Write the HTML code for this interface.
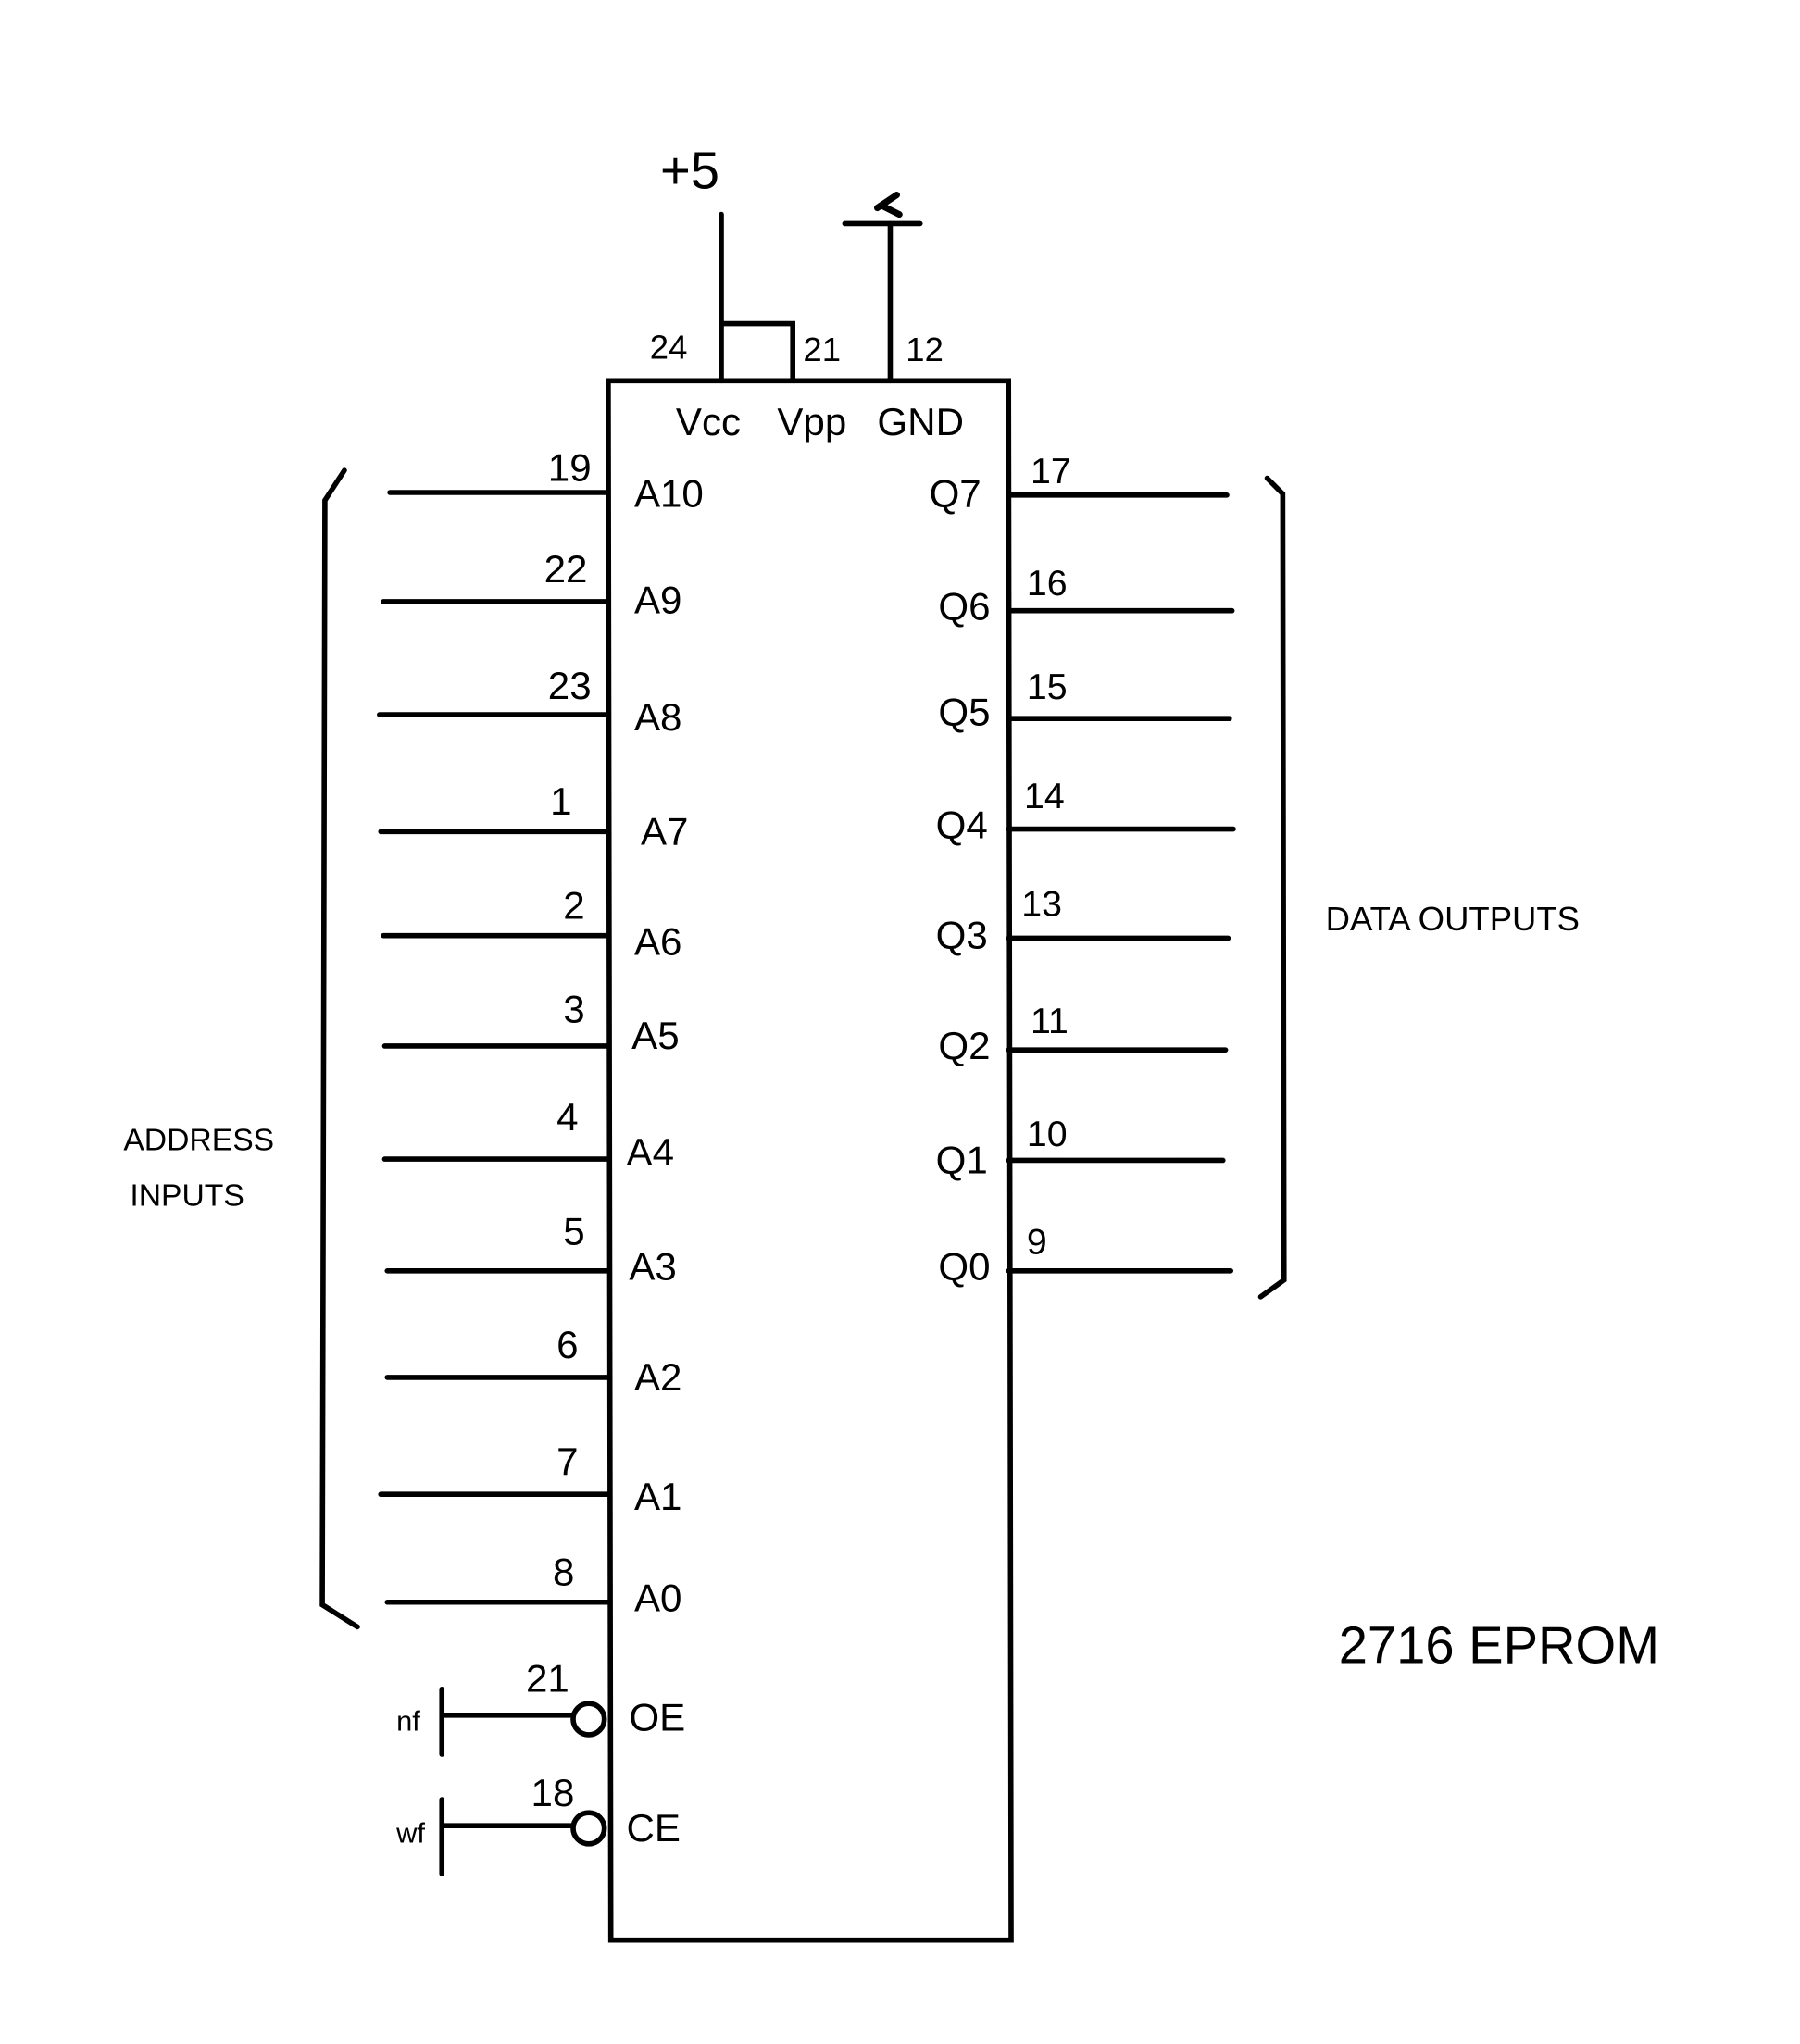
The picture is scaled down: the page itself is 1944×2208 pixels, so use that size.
<!DOCTYPE html>
<html><head><meta charset="utf-8"><style>
html,body{margin:0;padding:0;background:#fff;}
svg{display:block}
text{font-family:"Liberation Sans",sans-serif;fill:#000}
</style></head><body>
<svg width="1944" height="2208" viewBox="0 0 1385 1573" preserveAspectRatio="none" xmlns="http://www.w3.org/2000/svg">
<g stroke="#000" stroke-width="4" fill="none" stroke-linecap="round">
<!-- chip body -->
<path d="M468 293 L776 293 L778 1493 L470 1493 Z"/>
<!-- power -->
<line x1="555" y1="165" x2="555" y2="293"/>
<path d="M555 249 L610 249 L610 293"/>
<line x1="685" y1="172" x2="685" y2="293"/>
<line x1="650" y1="172" x2="708" y2="172"/>
<path d="M675 160 L690 150 M678 158 L692 165" stroke-width="5"/>
<!-- left pins -->
<line x1="300" y1="379" x2="468" y2="379"/>
<line x1="295" y1="463" x2="468" y2="463"/>
<line x1="292" y1="550" x2="468" y2="550"/>
<line x1="293" y1="640" x2="468" y2="640"/>
<line x1="295" y1="720" x2="468" y2="720"/>
<line x1="296" y1="805" x2="468" y2="805"/>
<line x1="296" y1="892" x2="468" y2="892"/>
<line x1="298" y1="978" x2="468" y2="978"/>
<line x1="298" y1="1060" x2="468" y2="1060"/>
<line x1="293" y1="1150" x2="468" y2="1150"/>
<line x1="298" y1="1233" x2="468" y2="1233"/>
<!-- OE / CE -->
<line x1="340" y1="1320" x2="440" y2="1320"/>
<circle cx="453" cy="1323" r="12"/>
<line x1="340" y1="1300" x2="340" y2="1350"/>
<line x1="340" y1="1405" x2="440" y2="1405"/>
<circle cx="453" cy="1407" r="12"/>
<line x1="340" y1="1385" x2="340" y2="1442"/>
<!-- right pins -->
<line x1="776" y1="381" x2="944" y2="381"/>
<line x1="776" y1="470" x2="948" y2="470"/>
<line x1="776" y1="553" x2="946" y2="553"/>
<line x1="776" y1="638" x2="949" y2="638"/>
<line x1="776" y1="722" x2="945" y2="722"/>
<line x1="776" y1="808" x2="943" y2="808"/>
<line x1="776" y1="893" x2="941" y2="893"/>
<line x1="776" y1="978" x2="947" y2="978"/>
<!-- brackets -->
<path d="M265 362 L250 385 L248 1235 L275 1252"/>
<path d="M975 368 L987 380 L988 985 L970 998"/>
</g>
<g font-size="30">
<text x="508" y="145" font-size="40">+5</text>
<text x="500" y="276" font-size="26">24</text>
<text x="618" y="278" font-size="26">21</text>
<text x="697" y="278" font-size="26">12</text>
<text x="520" y="335">Vcc</text>
<text x="598" y="335">Vpp</text>
<text x="675" y="335">GND</text>
<g text-anchor="end" font-size="30">
<text x="455" y="370">19</text>
<text x="452" y="448">22</text>
<text x="455" y="538">23</text>
<text x="440" y="627">1</text>
<text x="450" y="707">2</text>
<text x="450" y="787">3</text>
<text x="445" y="870">4</text>
<text x="450" y="958">5</text>
<text x="445" y="1045">6</text>
<text x="445" y="1135">7</text>
<text x="442" y="1220">8</text>
<text x="438" y="1302">21</text>
<text x="442" y="1390">18</text>
</g>
<text x="488" y="390">A10</text>
<text x="488" y="472">A9</text>
<text x="488" y="562">A8</text>
<text x="493" y="650">A7</text>
<text x="488" y="735">A6</text>
<text x="486" y="807">A5</text>
<text x="482" y="897">A4</text>
<text x="484" y="985">A3</text>
<text x="488" y="1070">A2</text>
<text x="488" y="1162">A1</text>
<text x="488" y="1240">A0</text>
<text x="484" y="1332">OE</text>
<text x="482" y="1417">CE</text>
<g text-anchor="end">
<text x="755" y="390">Q7</text>
<text x="762" y="477">Q6</text>
<text x="762" y="558">Q5</text>
<text x="760" y="645">Q4</text>
<text x="760" y="730">Q3</text>
<text x="762" y="815">Q2</text>
<text x="760" y="903">Q1</text>
<text x="762" y="985">Q0</text>
</g>
<text x="793" y="372" font-size="28">17</text>
<text x="790" y="458" font-size="28">16</text>
<text x="790" y="538" font-size="28">15</text>
<text x="788" y="622" font-size="28">14</text>
<text x="786" y="705" font-size="28">13</text>
<text x="793" y="795" font-size="28">11</text>
<text x="790" y="882" font-size="28">10</text>
<text x="790" y="965" font-size="28">9</text>
<text x="305" y="1332" font-size="22">nf</text>
<text x="305" y="1418" font-size="22">wf</text>
<text x="95" y="885" font-size="24">ADDRESS</text>
<text x="100" y="928" font-size="24">INPUTS</text>
<text x="1020" y="716" font-size="26">DATA OUTPUTS</text>
<text x="1030" y="1280" font-size="40">2716 EPROM</text>
</g>
</svg>
</body></html>
